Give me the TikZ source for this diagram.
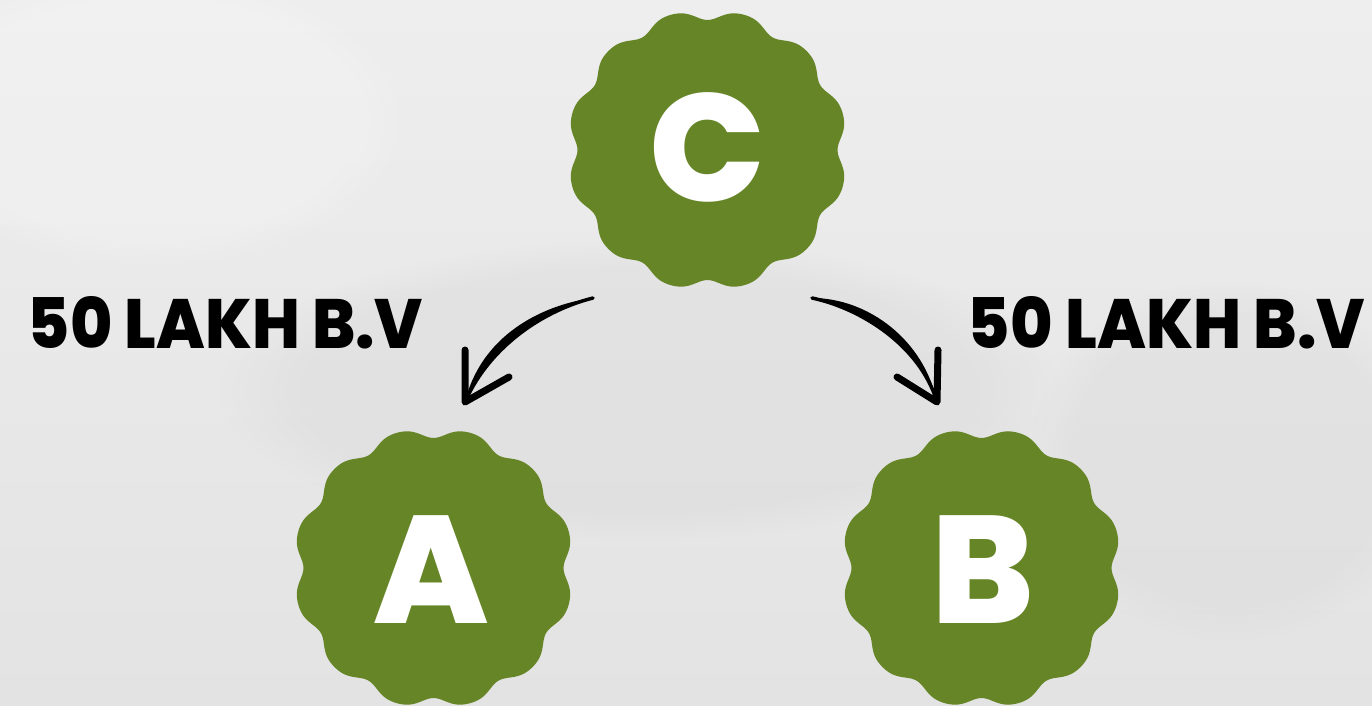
\documentclass[tikz,border=0pt]{standalone}
\usepackage{fontspec}
\setmainfont{Poppins}
\newfontfamily\heavy{Poppins ExtraBold}
\usepackage{graphicx}
\usetikzlibrary{fadings}
\definecolor{leaf}{HTML}{668527}
\definecolor{bgtop}{HTML}{EEEEEE}
\definecolor{bgbot}{HTML}{E3E3E3}
\definecolor{bgdark}{HTML}{D6D6D6}
\tikzset{
  badgeshape/.style={fill=leaf},
  letter/.style={text=white, font=\fontsize{153}{153}\heavy, inner sep=0pt},
  amount/.style={text=black, inner sep=0pt},
  brush/.style={draw=black, line width=3.5pt, line cap=round},
  headstroke/.style={draw=black, line width=7pt, line cap=round, line join=round}
}
\newcommand\mybadge[1]{%
  \fill[badgeshape, shift={(#1)}] plot[variable=\t, domain=0:360, samples=721]
    ({(135.8+5*(cos(12*(\t-15))-0.15*cos(24*(\t-15))))*cos(\t)},
     {(135.8+5*(cos(12*(\t-15))-0.15*cos(24*(\t-15))))*sin(\t)}) -- cycle;}
\begin{document}
\begin{tikzpicture}[x=1pt,y=-1pt]
  \useasboundingbox (0,0) rectangle (1372,706);
  \shade[top color=bgtop, bottom color=bgbot] (0,0) rectangle (1372,706);
  \fill[bgdark, opacity=0.35, path fading=circle with fuzzy edge 20 percent]
    (640,390) ellipse [x radius=420, y radius=150];
  \fill[bgdark, opacity=0.3, path fading=circle with fuzzy edge 20 percent]
    (1230,460) ellipse [x radius=200, y radius=180];
  \fill[white, opacity=0.2, path fading=circle with fuzzy edge 20 percent]
    (150,120) ellipse [x radius=260, y radius=150];

  % badge centres
  \coordinate (cC) at (707.5,150);
  \coordinate (cA) at (433.5,568);
  \coordinate (cB) at (981.5,568);
  \mybadge{cC}
  \mybadge{cA}
  \mybadge{cB}

  \node[letter] (C) at (707.5,147) {C};
  \node[letter] (A) at (431.5,569.5) {A};
  \node[letter] (B) at (983,569.5) {B};

  \node[amount] (L1) at (225.5,323) {\resizebox{395pt}{52pt}{\heavy 50 LAKH B.V}};
  \node[amount] (L2) at (1166.5,323) {\resizebox{397pt}{52pt}{\heavy 50 LAKH B.V}};

  % left arrow C -> A
  \coordinate (s1) at (593,298);
  \coordinate (t1) at (465,402);
  \coordinate (h1a) at (465,350);
  \coordinate (h1b) at (509,377);
  \fill (s1) .. controls (545,310) and (490,345) .. (t1)
        .. controls (481,336) and (541,305) .. (s1) -- cycle;
  \draw[brush] (s1) .. controls (545,310) and (490,345) .. (t1);
  \draw[headstroke] (h1a) -- (t1) -- (h1b);

  % right arrow C -> B
  \coordinate (s2) at (812,298);
  \coordinate (t2) at (937,402);
  \coordinate (h2a) at (938,350);
  \coordinate (h2b) at (897,377);
  \fill (s2) .. controls (860,308) and (920,345) .. (t2)
        .. controls (924,340) and (868,298) .. (s2) -- cycle;
  \draw[brush] (s2) .. controls (860,308) and (920,345) .. (t2);
  \draw[headstroke] (h2a) -- (t2) -- (h2b);
\end{tikzpicture}
\end{document}
